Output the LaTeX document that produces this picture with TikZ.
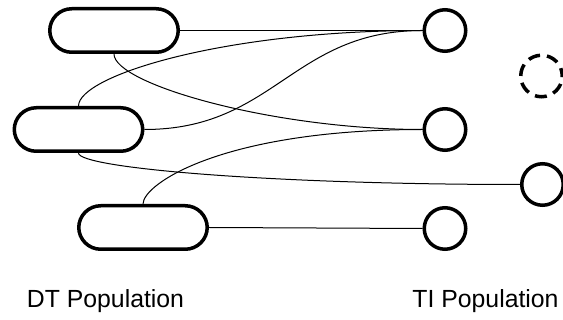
\documentclass[tikz,border=0pt]{standalone}
\usepackage{fontspec}
\setmainfont{Liberation Sans}
\begin{document}
\begin{tikzpicture}[x=1pt,y=-1pt,
  dtbox/.style={draw,line width=3.5pt,rounded corners=22pt,minimum width=128.5pt,minimum height=43.5pt,inner sep=0pt},
  tinode/.style={draw,line width=3.5pt,circle,minimum size=41.5pt,inner sep=0pt},
  link/.style={line width=1pt},
  poplabel/.style={font=\fontsize{24.8}{30}\selectfont,anchor=base,inner sep=0pt}]
\useasboundingbox (0,0) rectangle (563,320);

% DT population
\node[dtbox] (r1) at (114,30.5) {};
\node[dtbox] (r2) at (78.5,129.5) {};
\node[dtbox] (r3) at (143,227.5) {};

% TI population
\node[tinode] (c1) at (445,30.5) {};
\node[tinode] (c2) at (445,129.5) {};
\node[tinode] (c3) at (542.5,184.5) {};
\node[tinode] (c4) at (445,228.5) {};
\node[tinode,dash pattern=on 12pt off 7pt,dash phase=4pt] (cd) at (541.5,76) {};

% links
\draw[link] (r1.east) -- (c1.west);
\draw[link] (r1.south) .. controls +(0,30) and +(-150,0) .. (c2.west);
\draw[link] (r2.north) .. controls +(0,-30) and +(-200,0) .. (c1.west);
\draw[link] (r2.east) .. controls +(130,0) and +(-130,0) .. (c1.west);
\draw[link] (r2.south) .. controls +(0,15) and +(-250,0) .. (c3.west);
\draw[link] (r3.north) .. controls +(0,-20) and +(-200,0) .. (c2.west);
\draw[link] (r3.east) -- (c4.west);

% labels
\node[poplabel] (dtl) at (105.5,308) {DT Population};
\node[poplabel] (til) at (485.5,308) {TI Population};
\end{tikzpicture}
\end{document}
